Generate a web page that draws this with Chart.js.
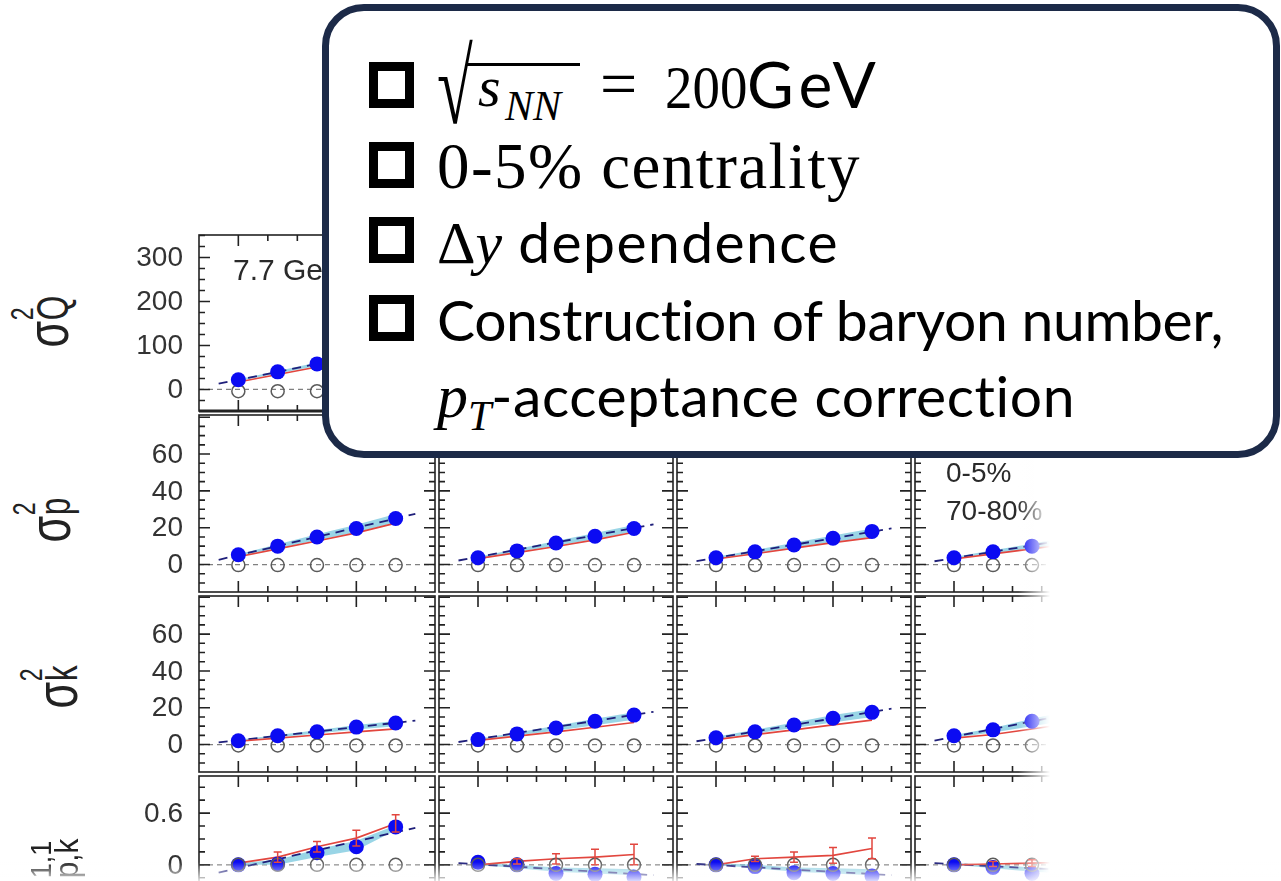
<!DOCTYPE html>
<html>
<head>
<meta charset="utf-8">
<script src="https://cdn.jsdelivr.net/npm/chart.js@4.4.1/dist/chart.umd.min.js"></script>
<style>
html,body{margin:0;padding:0;background:#fff;}
body{width:1281px;height:881px;overflow:hidden;position:relative;}
.panel{position:absolute;}
.ylab{position:absolute;font-family:"Liberation Sans",Arial,sans-serif;color:#222;white-space:nowrap;font-size:60px;line-height:1;}
.stk{display:inline-block;position:relative;height:0;}
.stk span{position:absolute;left:1px;line-height:1;}
.tag{position:absolute;top:0;font:28px "Liberation Sans",Arial,sans-serif;color:#2a2a2a;white-space:nowrap;line-height:1;}
#fadeR{position:absolute;left:1018px;top:200px;width:263px;height:681px;background:linear-gradient(to right,rgba(255,255,255,0),#fff 32px);}
#fadeB{position:absolute;left:0;top:862px;width:1281px;height:19px;background:linear-gradient(to bottom,rgba(255,255,255,0),rgba(255,255,255,0.85));}
#box{position:absolute;left:322px;top:4px;width:958px;height:454px;box-sizing:border-box;border:7px solid #1c2a48;border-radius:42px;background:#fff;}
.cb{position:absolute;left:369px;width:45px;height:46px;box-sizing:border-box;border:9px solid #000;}
.ln{position:absolute;top:0;white-space:nowrap;color:#000;line-height:1;}
.m{font-family:"Liberation Serif",serif;}
.mi{font-family:"Liberation Serif",serif;font-style:italic;}
.s{font-family:Lato,sans-serif;}
#ovl{position:absolute;left:466px;top:63px;width:114px;height:3px;background:#000;}
</style>
</head>
<body>
<script>
// delta-y values of the points and of the fit line ends
const DY=[0.2,0.4,0.6,0.8,1.0];
const FIT_X=[0.1,1.1];
const X_MIN=0, X_MAX=1.2;
const X_TICKS=[0.2,0.35,0.5,0.65,0.8,0.95,1.1];
const X_MAJOR=[0.2,0.8];

// row 1: sigma^2_Q (only the first energy is visible)
const Q_CENTRAL=[[22,40,58,76,94]];
const Q_PERIPH=[[-4,-4,-4,-4,-4]];
const Q_MODEL=[[17,34,51,68,85]];
const Q_BAND_LO=[[19,36,53,70,87]];
const Q_BAND_HI=[[23,42,61,80,99]];
const Q_FIT=[[13,103]];

// row 2: sigma^2_p
const P_CENTRAL=[[5.3,10,15,19.6,25],[3.7,7.4,11.7,15.4,19.6],[3.7,6.9,10.6,14.3,18],[3.7,6.9,10,13.6,17]];
const P_PERIPH=[[-0.3,-0.3,-0.3,-0.3,-0.3],[-0.3,-0.3,-0.3,-0.3,-0.3],[-0.3,-0.3,-0.3,-0.3,-0.3],[-0.3,-0.3,-0.3,-0.3,-0.3]];
const P_MODEL=[[4.2,8.5,12.8,17.2,22.5],[3.2,6.5,9.8,13.4,17.5],[3.0,5.9,8.9,11.9,14.6],[3.0,5.8,8.5,11.3,14]];
const P_BAND_LO=[[4.5,8.8,13.2,17.5,22.8],[3.4,6.8,10.2,13.8,17.8],[3.2,6.2,9.3,12.3,15],[3.1,6,8.8,11.6,14.4]];
const P_BAND_HI=[[5.6,11,16.5,21.6,27.5],[4.2,8.4,12.8,17.2,21.5],[4.2,7.9,11.9,15.8,19.6],[4.1,7.8,11.3,15.2,18.8]];
const P_FIT=[[2.6,27.5],[2.2,21.8],[1.9,19.6],[1.8,19]];

// row 3: sigma^2_k
const K_CENTRAL=[[2.1,4.8,6.9,9.5,11.7],[2.7,5.8,9,12.7,16],[3.7,6.9,10.6,14.3,17.5],[4.8,8,12.7,16.8,21]];
const K_PERIPH=[[-0.5,-0.5,-0.5,-0.5,-0.5],[-0.5,-0.5,-0.5,-0.5,-0.5],[-0.5,-0.5,-0.5,-0.5,-0.5],[-0.5,-0.5,-0.5,-0.5,-0.5]];
const K_MODEL=[[1.8,3.5,5.2,6.9,8.5],[2.3,4.6,6.9,9.4,12],[2.7,5.4,8,10.7,13.3],[3.5,5.5,8.5,11.5,14.5]];
const K_BAND_LO=[[2,4,6,8.2,10],[2.5,5,7.5,10.5,13.5],[3,6,9,12,15],[3.8,6.5,10,13.5,17]];
const K_BAND_HI=[[2.6,5.2,7.8,10.6,12.8],[3.2,6.6,10.2,14,17.5],[4.2,8,12,16,19.2],[5.2,9,14,18.5,22.5]];
const K_FIT=[[1.2,13],[1.4,17.8],[1.8,19.5],[2.2,23]];

// row 4: C^{1,1}_{p,k}
const PK_CENTRAL=[[0,0.01,0.14,0.21,0.44],[0.03,0,-0.1,-0.11,-0.14],[0,-0.02,-0.09,-0.1,-0.13],[0,-0.03,-0.1,-0.12,-0.14]];
const PK_PERIPH=[[0,0,0,0,0],[0,0,0,0,0],[0,0,0,0,0],[0,0,0,0,0]];
const PK_MODEL=[[0.02,0.09,0.21,0.31,0.48],[0,0.04,0.07,0.09,0.12],[0,0.07,0.09,0.11,0.19],[0,0.01,0.02,0.03,0.04]];
const PK_ERR=[[0,0.06,0.06,0.09,0.1],[0,0.03,0.06,0.09,0.12],[0,0.03,0.06,0.09,0.12],[0,0.03,0.04,0.05,0.06]];
const PK_BAND_LO=[[0,0,0.09,0.17,0.4],[0,-0.04,-0.08,-0.1,-0.12],[0,-0.04,-0.08,-0.1,-0.12],[0,-0.04,-0.08,-0.1,-0.12]];
const PK_BAND_HI=[[0.02,0.06,0.18,0.28,0.46],[0.02,0,-0.03,-0.04,-0.05],[0.02,0,-0.03,-0.04,-0.05],[0.02,0,-0.03,-0.04,-0.05]];
const PK_FIT=[[-0.09,0.43],[0.02,-0.12],[0.01,-0.12],[0.02,-0.1]];

const Y_LABELS=[[0,100,200,300],[0,20,40,60],[0,20,40,60],[0,0.6]];
const Y_RANGE=[[-49,351],[-14.9,81.2],[-14.9,80.7],[-1.01,1.03]];
const Y_MINOR=[25,5,5,0.15];
const Y_MAJOR=[100,20,20,0.6];

const ENERGY=["7.7 GeV"];
const CENT_TAGS=["0-5%","70-80%"];

// layout
const COL_LEFT=[199,437,675,913];
const ROW_TOP=[233,413,594,774];
const ROW_H=[180,181,180,180];
const PW=238, M=6, LABEL_W=79;

const ROWS=[
 {c:Q_CENTRAL,p:Q_PERIPH,m:Q_MODEL,lo:Q_BAND_LO,hi:Q_BAND_HI,f:Q_FIT},
 {c:P_CENTRAL,p:P_PERIPH,m:P_MODEL,lo:P_BAND_LO,hi:P_BAND_HI,f:P_FIT},
 {c:K_CENTRAL,p:K_PERIPH,m:K_MODEL,lo:K_BAND_LO,hi:K_BAND_HI,f:K_FIT},
 {c:PK_CENTRAL,p:PK_PERIPH,m:PK_MODEL,lo:PK_BAND_LO,hi:PK_BAND_HI,f:PK_FIT,e:PK_ERR}
];

const framePlugin={
 id:"frame",
 afterDatasetsDraw(ch,args,o){
  const {ctx,chartArea:a,scales:{x,y}}=ch;
  const r=o.row;
  ctx.save();
  // red error bars
  const md=ch.data.datasets.find(d=>d.errors);
  if(md){
   ctx.strokeStyle="#e2463e";ctx.lineWidth=1.5;ctx.beginPath();
   md.data.forEach((p,i)=>{
    const e=md.errors[i]; if(!e) return;
    const px=x.getPixelForValue(p.x),t=y.getPixelForValue(p.y+e),b=y.getPixelForValue(p.y-e);
    ctx.moveTo(px,t);ctx.lineTo(px,b);
    ctx.moveTo(px-4,t);ctx.lineTo(px+4,t);
    ctx.moveTo(px-4,b);ctx.lineTo(px+4,b);
   });
   ctx.stroke();
  }
  ctx.strokeStyle="#222";ctx.lineWidth=1.6;
  ctx.strokeRect(a.left,a.top,a.right-a.left,a.bottom-a.top);
  if(r===0){
   ctx.lineWidth=3;ctx.beginPath();ctx.moveTo(a.left,a.bottom);ctx.lineTo(a.right,a.bottom);ctx.stroke();
   ctx.lineWidth=1.6;
  }
  ctx.beginPath();
  X_TICKS.forEach(v=>{
   const px=x.getPixelForValue(v),L=X_MAJOR.includes(v)?11:6;
   ctx.moveTo(px,a.top);ctx.lineTo(px,a.top+L);
   ctx.moveTo(px,a.bottom);ctx.lineTo(px,a.bottom-L);
  });
  const st=Y_MINOR[r],mj=Y_MAJOR[r];
  for(let k=Math.ceil(y.min/st);k*st<=y.max;k++){
   const v=k*st,py=y.getPixelForValue(v);
   const L=Math.abs(v/mj-Math.round(v/mj))<1e-6?11:6;
   ctx.moveTo(a.left,py);ctx.lineTo(a.left+L,py);
   ctx.moveTo(a.right,py);ctx.lineTo(a.right-L,py);
  }
  ctx.stroke();
  // tick labels on the first column
  if(o.labels){
   ctx.fillStyle="#333";ctx.font='28px "Liberation Sans", Arial, sans-serif';
   ctx.textAlign="right";ctx.textBaseline="middle";
   Y_LABELS[r].forEach(v=>ctx.fillText(String(v),a.left-16,y.getPixelForValue(v)+1));
  }
  ctx.restore();
 }
};

function pts(a){return DY.map((x,i)=>({x:x,y:a[i]}));}

function makePanel(r,c){
 const R=ROWS[r],first=c===0;
 const div=document.createElement("div");
 div.className="panel";
 const left=COL_LEFT[c]-M-(first?LABEL_W:0);
 const w=PW+2*M+(first?LABEL_W:0),h=ROW_H[r]+2*M;
 div.style.cssText=`left:${left}px;top:${ROW_TOP[r]-M}px;width:${w}px;height:${h}px`;
 const cv=document.createElement("canvas");
 div.appendChild(cv);
 document.body.appendChild(div);
 const blueTop=r!==3;
 new Chart(cv,{
  type:"line",
  data:{datasets:[
   {data:[{x:X_MIN,y:0},{x:X_MAX,y:0}],borderColor:"#808080",borderWidth:1.2,borderDash:[5,4],pointRadius:0,order:9},
   {data:pts(R.lo[c]),borderWidth:0,pointRadius:0,fill:false,order:8},
   {data:pts(R.hi[c]),borderWidth:0,pointRadius:0,fill:"-1",backgroundColor:"rgba(110,195,220,0.7)",order:7},
   {data:FIT_X.map((x,i)=>({x:x,y:R.f[c][i]})),borderColor:"#1f1f7a",borderWidth:1.8,borderDash:[9,6],pointRadius:0,order:6},
   {data:pts(R.m[c]),borderColor:"#e2463e",borderWidth:1.6,pointRadius:0,order:5,errors:R.e?R.e[c]:null},
   {data:pts(R.p[c]),showLine:false,pointRadius:6.5,pointBorderColor:"#5a5a5a",pointBackgroundColor:"rgba(0,0,0,0)",pointBorderWidth:1.5,order:blueTop?3:1},
   {data:pts(R.c[c]),showLine:false,pointRadius:7.5,pointBackgroundColor:"#0b0bf2",pointBorderColor:"#0b0bf2",pointBorderWidth:0,order:blueTop?1:3}
  ]},
  options:{
   responsive:true,maintainAspectRatio:false,animation:false,
   layout:{padding:{left:M+(first?LABEL_W:0),right:M,top:M,bottom:M}},
   elements:{line:{tension:0}},
   plugins:{legend:{display:false},tooltip:{enabled:false},frame:{row:r,labels:first}},
   scales:{
    x:{type:"linear",min:X_MIN,max:X_MAX,display:false},
    y:{type:"linear",min:Y_RANGE[r][0],max:Y_RANGE[r][1],display:false}
   }
  },
  plugins:[framePlugin]
 });
}

ROWS.forEach((R,r)=>R.c.forEach((_,c)=>makePanel(r,c)));

function addHTML(html){document.body.insertAdjacentHTML("beforeend",html);}

// row labels (rotated): main symbol, stacked super- and subscript
function rowLabel(x,y,main,sup,sub,o){
 addHTML(`<div class="ylab" style="left:${x}px;top:${y}px;transform:translate(-50%,-50%) rotate(-90deg) scaleX(${o.sx})">${main}<span class="stk" style="width:${o.w}px"><span style="bottom:${o.supB}px;font-size:${o.supS}px">${sup}</span><span style="bottom:${o.subB}px;font-size:${o.subS}px">${sub}</span></span></div>`);
}
const SIG={sx:0.72,w:34,supB:30,supS:32,subB:-7,subS:44};
rowLabel(48,322,"σ","2","Q",SIG);
rowLabel(50,517,"σ","2","p",SIG);
rowLabel(57,683,"σ","2","k",SIG);
rowLabel(59,878,"C","1,1","p,k",{sx:0.9,w:46,supB:23,supS:30,subB:-4,subS:33});

// panel tags
addHTML(`<div class="tag" data-base="280" style="left:233px;font-size:30px">${ENERGY[0]}</div>`);
addHTML(`<div class="tag" data-base="482" style="left:946px">${CENT_TAGS[0]}</div>`);
addHTML(`<div class="tag" data-base="520" style="left:946px">${CENT_TAGS[1]}</div>`);

addHTML(`<div id="fadeR"></div><div id="fadeB"></div>`);

// overlay box
addHTML(`<div id="box"></div>
<div class="cb" style="top:62px"></div>
<div class="cb" style="top:142px"></div>
<div class="cb" style="top:217px"></div>
<div class="cb" style="top:295px"></div>
<div class="ln m" data-base="123" style="left:437px;font-size:62px"><span style="display:inline-block;transform:scale(1.05,1.7);transform-origin:0 85%">√</span></div>
<div id="ovl"></div>
<div class="ln mi" data-base="106" style="left:478px;font-size:58px">s</div>
<div class="ln mi" data-base="120" style="left:505px;font-size:42px">NN</div>
<div class="ln m" data-base="106" style="left:600px;font-size:66px">=</div>
<div class="ln m" data-base="108" style="left:665px;font-size:61px"><span style="display:inline-block;transform:scaleX(0.9);transform-origin:0 0">200</span></div>
<div class="ln s" data-base="108" style="left:747px;font-size:64px"><span data-end="881">GeV</span></div>
<div class="ln m" data-base="188" style="left:437px;font-size:65px"><span data-end="861">0-5% centrality</span></div>
<div class="ln" data-base="263" style="left:437px"><span class="m" style="font-size:60px">Δ</span><span class="mi" style="font-size:60px">y</span><span class="s" style="font-size:57px" data-end="839"> dependence</span></div>
<div class="ln s" data-base="341" style="left:437px;font-size:57px"><span data-end="1224">Construction of baryon number,</span></div>
<div class="ln" data-base="417" style="left:437px"><span class="mi" style="font-size:62px">p</span><span class="mi" style="font-size:42px;vertical-align:-0.3em">T</span><span class="s" style="font-size:57px" data-end="1076">-acceptance correction</span></div>`);

function settle(){
 document.querySelectorAll("[data-base]").forEach(el=>{
  const mk=document.createElement("span");
  mk.style.cssText="display:inline-block;width:0;height:0";
  el.appendChild(mk);
  const y=mk.getBoundingClientRect().top;
  el.style.top=(parseFloat(el.style.top||0)+(+el.dataset.base)-y)+"px";
  mk.remove();
 });
 document.querySelectorAll("[data-end]").forEach(sp=>{
  const n=sp.textContent.length;
  const d=(+sp.dataset.end)-sp.getBoundingClientRect().right;
  sp.style.letterSpacing=(d/n)+"px";
 });
}
settle();
</script>
</body>
</html>
